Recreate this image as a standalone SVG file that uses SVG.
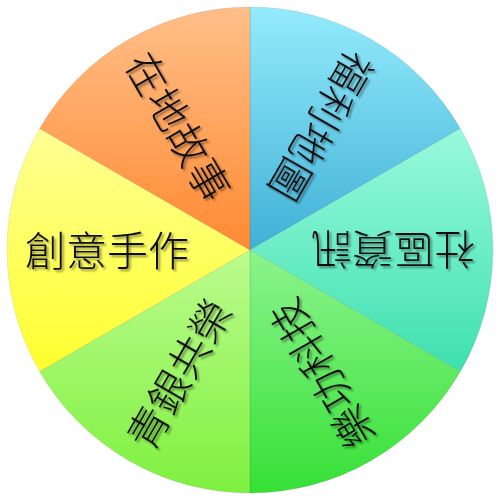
<svg xmlns="http://www.w3.org/2000/svg" width="499" height="499" viewBox="0 0 499 499">
  <defs>
    <linearGradient id="gOrange" x1="0" y1="0" x2="0" y2="1">
      <stop offset="0" stop-color="#ffbf88"/>
      <stop offset="1" stop-color="#ff8a32"/>
    </linearGradient>
    <linearGradient id="gBlue" x1="0" y1="0" x2="0" y2="1">
      <stop offset="0" stop-color="#94ebfc"/>
      <stop offset="1" stop-color="#40b0d6"/>
    </linearGradient>
    <linearGradient id="gAqua" x1="0" y1="0" x2="0" y2="1">
      <stop offset="0" stop-color="#98fadc"/>
      <stop offset="1" stop-color="#3ee0ae"/>
    </linearGradient>
    <linearGradient id="gGreen" x1="0" y1="0" x2="0" y2="1">
      <stop offset="0" stop-color="#8cf48c"/>
      <stop offset="1" stop-color="#36e036"/>
    </linearGradient>
    <linearGradient id="gLime" x1="0" y1="0" x2="0" y2="1">
      <stop offset="0" stop-color="#bcfc8e"/>
      <stop offset="1" stop-color="#7ef03e"/>
    </linearGradient>
    <linearGradient id="gYellow" x1="0" y1="0" x2="0" y2="1">
      <stop offset="0" stop-color="#ffff94"/>
      <stop offset="1" stop-color="#ffff2e"/>
    </linearGradient>
    <filter id="sh" x="-20%" y="-20%" width="140%" height="140%">
      <feGaussianBlur in="SourceAlpha" stdDeviation="1.2" result="b"/>
      <feOffset in="b" dx="2" dy="2" result="o"/>
      <feComponentTransfer in="o" result="s">
        <feFuncA type="linear" slope="0.45"/>
      </feComponentTransfer>
      <feMerge>
        <feMergeNode in="s"/>
        <feMergeNode in="SourceGraphic"/>
      </feMerge>
    </filter>
  </defs>
  <style>
    .wedge { stroke: rgba(0,0,0,0.08); stroke-width: 1; }
    .lbl { font-family: "Noto Sans CJK TC", "Noto Sans CJK SC", sans-serif; font-size: 41px; font-weight: 300; fill: #111; text-anchor: middle; dominant-baseline: central; }
  </style>

  <g id="welfare-map">
    <path class="wedge" fill="url(#gBlue)" d="M250,250 L250,7 A243,243 0 0 1 460.4,128.5 Z"/>
    <g filter="url(#sh)"><text class="lbl" x="107" y="248" transform="rotate(120 250 250)">福利地圖</text></g>
  </g>
  <g id="community-info">
    <path class="wedge" fill="url(#gAqua)" d="M250,250 L460.4,128.5 A243,243 0 0 1 460.4,371.5 Z"/>
    <g filter="url(#sh)"><text class="lbl" x="107" y="248" transform="rotate(180 250 250)">社區資訊</text></g>
  </g>
  <g id="tech">
    <path class="wedge" fill="url(#gGreen)" d="M250,250 L460.4,371.5 A243,243 0 0 1 250,493 Z"/>
    <g filter="url(#sh)"><text class="lbl" x="107" y="248" transform="rotate(240 250 250)">樂功科技</text></g>
  </g>
  <g id="generations">
    <path class="wedge" fill="url(#gLime)" d="M250,250 L250,493 A243,243 0 0 1 39.6,371.5 Z"/>
    <g filter="url(#sh)"><text class="lbl" x="107" y="248" transform="rotate(300 250 250)">青銀共榮</text></g>
  </g>
  <g id="crafts">
    <path class="wedge" fill="url(#gYellow)" d="M250,250 L39.6,371.5 A243,243 0 0 1 39.6,128.5 Z"/>
    <g filter="url(#sh)"><text class="lbl" x="107" y="248">創意手作</text></g>
  </g>
  <g id="local-stories">
    <path class="wedge" fill="url(#gOrange)" d="M250,250 L39.6,128.5 A243,243 0 0 1 250,7 Z"/>
    <g filter="url(#sh)"><text class="lbl" x="107" y="248" transform="rotate(60 250 250)">在地故事</text></g>
  </g>
</svg>
